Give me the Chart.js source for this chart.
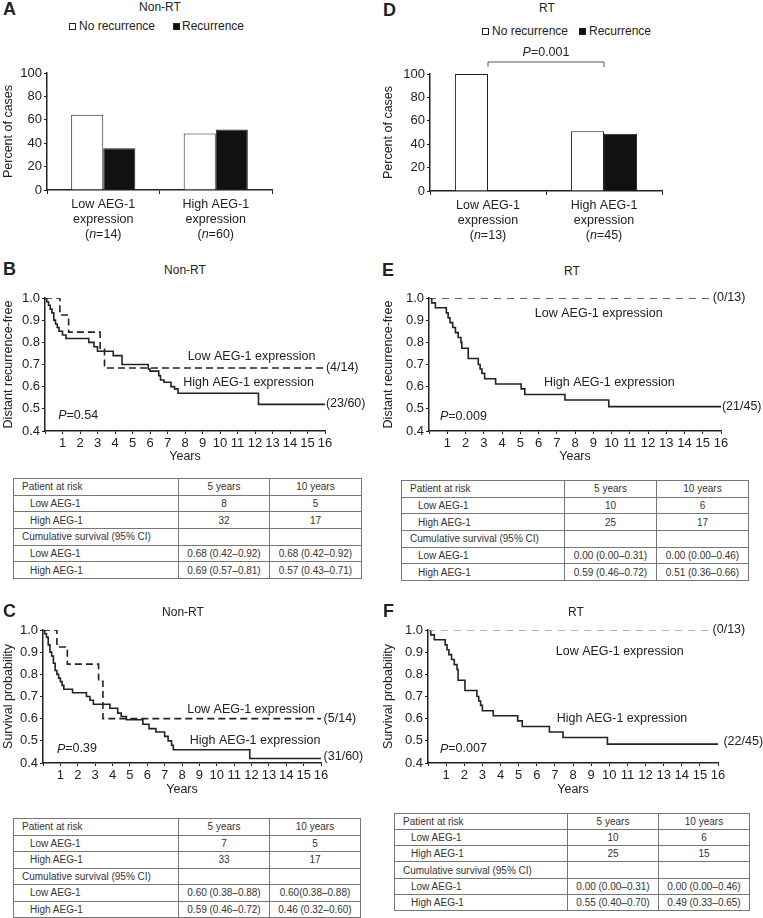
<!DOCTYPE html>
<html>
<head>
<meta charset="utf-8">
<script src="https://cdn.jsdelivr.net/npm/chart.js@4.4.1/dist/chart.umd.min.js"></script>
<style>
  body { margin: 0; background: #fff; font-family: "Liberation Sans", Arial, sans-serif; color: #222; }
  #page { position: relative; width: 763px; height: 918px; overflow: hidden; }
  canvas { position: absolute; }
  .txt { position: absolute; white-space: nowrap; font-size: 12px; }
  .letter { font-weight: bold; font-size: 18px; }
  .sq { position: absolute; width: 5px; height: 5px; border: 1px solid #222; }
  table.risk { position: absolute; border-collapse: collapse; table-layout: fixed; font-size: 10px; color: #333; }
  table.risk td { border: 1px solid #777; padding: 0; white-space: nowrap; overflow: hidden; }
  table.risk td.c { text-align: center; }
</style>
</head>
<body>
<div id="page">
  <canvas id="chartA" width="290" height="205" style="left:0px;top:40px"></canvas>
  <canvas id="chartD" width="300" height="205" style="left:380px;top:40px"></canvas>
  <canvas id="chartB" width="375" height="185" style="left:0px;top:283px"></canvas>
  <canvas id="chartE" width="383" height="185" style="left:380px;top:283px"></canvas>
  <canvas id="chartC" width="375" height="186" style="left:0px;top:615px"></canvas>
  <canvas id="chartF" width="383" height="186" style="left:380px;top:615px"></canvas>
</div>
<script>
// bar charts (A, D)
const barSeries = ['No recurrence', 'Recurrence'];
const aCategories = [['Low AEG-1', 'expression', '(*n*=14)'], ['High AEG-1', 'expression', '(*n*=60)']];
const aNoRecurrence = [64.3, 48.3];
const aRecurrence = [35.7, 51.7];
const dCategories = [['Low AEG-1', 'expression', '(*n*=13)'], ['High AEG-1', 'expression', '(*n*=45)']];
const dNoRecurrence = [100, 51.1];
const dRecurrence = [0, 48.9];

// survival curves: times (years) and survival
const bLowT = [0, 0.85, 1.35, 3.15, 3.4, 16];
const bLowS = [1.0, 0.923, 0.846, 0.769, 0.684, 0.684];
const bHighT = [0, 0.1, 0.2, 0.3, 0.4, 0.5, 0.6, 0.7, 0.8, 1.0, 1.2, 2.5, 2.8, 3.0, 3.9, 4.4, 5.9, 6.0, 6.5, 6.6, 6.8, 7.2, 7.4, 7.6, 12.2, 16];
const bHighS = [1.0, 0.983, 0.967, 0.95, 0.933, 0.9, 0.883, 0.867, 0.85, 0.833, 0.817, 0.80, 0.78, 0.76, 0.74, 0.70, 0.68, 0.67, 0.65, 0.63, 0.62, 0.60, 0.59, 0.57, 0.52, 0.52];

const eLowT = [0, 15.5];
const eLowS = [1.0, 1.0];
const eHighT = [0, 0.15, 0.35, 0.95, 1.05, 1.15, 1.3, 1.45, 1.6, 1.75, 1.8, 2.15, 2.7, 2.8, 2.9, 3.05, 3.65, 5.05, 5.25, 7.45, 9.85, 16];
const eHighS = [1.0, 0.978, 0.956, 0.933, 0.911, 0.889, 0.867, 0.844, 0.822, 0.80, 0.773, 0.727, 0.70, 0.68, 0.66, 0.636, 0.612, 0.59, 0.565, 0.54, 0.51, 0.51];

const cLowT = [0, 0.8, 1.4, 3.2, 3.45, 16];
const cLowS = [1.0, 0.923, 0.846, 0.769, 0.60, 0.60];
const cHighT = [0, 0.1, 0.2, 0.3, 0.4, 0.5, 0.6, 0.7, 0.8, 0.9, 1.0, 1.1, 1.2, 1.7, 2.5, 2.7, 2.9, 3.85, 4.3, 4.5, 4.8, 5.75, 6.1, 6.5, 7.0, 7.2, 7.4, 7.5, 11.9, 16];
const cHighS = [1.0, 0.983, 0.967, 0.933, 0.9, 0.883, 0.85, 0.817, 0.80, 0.783, 0.767, 0.75, 0.733, 0.717, 0.70, 0.683, 0.665, 0.647, 0.625, 0.61, 0.595, 0.575, 0.555, 0.54, 0.52, 0.50, 0.48, 0.46, 0.42, 0.42];

const fLowT = [0, 15.6];
const fLowS = [1.0, 1.0];
const fHighT = [0, 0.15, 0.35, 0.95, 1.05, 1.15, 1.3, 1.45, 1.6, 1.66, 2.04, 2.7, 2.8, 2.9, 3.0, 3.6, 4.95, 5.2, 6.7, 7.45, 9.9, 16];
const fHighS = [1.0, 0.978, 0.956, 0.933, 0.911, 0.889, 0.867, 0.844, 0.822, 0.773, 0.727, 0.70, 0.68, 0.66, 0.636, 0.613, 0.59, 0.565, 0.54, 0.515, 0.485, 0.485];

// tables
const riskHeader = ['Patient at risk', '5 years', '10 years'];
const bRiskLow = [8, 5], bRiskHigh = [32, 17];
const bCumLow = ['0.68 (0.42–0.92)', '0.68 (0.42–0.92)'], bCumHigh = ['0.69 (0.57–0.81)', '0.57 (0.43–0.71)'];
const eRiskLow = [10, 6], eRiskHigh = [25, 17];
const eCumLow = ['0.00 (0.00–0.31)', '0.00 (0.00–0.46)'], eCumHigh = ['0.59 (0.46–0.72)', '0.51 (0.36–0.66)'];
const cRiskLow = [7, 5], cRiskHigh = [33, 17];
const cCumLow = ['0.60 (0.38–0.88)', '0.60(0.38–0.88)'], cCumHigh = ['0.59 (0.46–0.72)', '0.46 (0.32–0.60)'];
const fRiskLow = [10, 6], fRiskHigh = [25, 15];
const fCumLow = ['0.00 (0.00–0.31)', '0.00 (0.00–0.46)'], fCumHigh = ['0.55 (0.40–0.70)', '0.49 (0.33–0.65)'];

const FONT = '"Liberation Sans", Arial, sans-serif';
const INK = '#222';
Chart.defaults.font.family = FONT;
Chart.defaults.font.size = 12;
Chart.defaults.color = INK;

// text with *italic* parts, drawn on a canvas
function drawRich(ctx, text, x, y, align, size) {
  const parts = text.split('*').map((t, i) => ({ t: t, it: i % 2 === 1 })).filter(p => p.t);
  let total = 0;
  parts.forEach(p => {
    ctx.font = (p.it ? 'italic ' : '') + size + 'px ' + FONT;
    p.w = ctx.measureText(p.t).width;
    total += p.w;
  });
  let cx = align === 'center' ? x - total / 2 : (align === 'right' ? x - total : x);
  ctx.textAlign = 'left';
  ctx.textBaseline = 'middle';
  ctx.fillStyle = INK;
  parts.forEach(p => {
    ctx.font = (p.it ? 'italic ' : '') + size + 'px ' + FONT;
    ctx.fillText(p.t, cx, y);
    cx += p.w;
  });
}

const extras = {
  id: 'extras',
  afterDraw(chart, args, opts) {
    const ctx = chart.ctx, xs = chart.scales.x, ys = chart.scales.y;
    ctx.save();
    (opts.notes || []).forEach(n => {
      drawRich(ctx, n.text, xs.getPixelForValue(n.x), ys.getPixelForValue(n.y), n.align || 'left', 12.5);
    });
    (opts.cats || []).forEach((lines, i) => {
      lines.forEach((line, j) => drawRich(ctx, line, xs.getPixelForValue(i), ys.bottom + 15 + j * 15, 'center', 12.5));
    });
    if (opts.bracket) {
      const x1 = xs.getPixelForValue(0), x2 = xs.getPixelForValue(1), y = ys.top - 12;
      ctx.strokeStyle = '#555';
      ctx.lineWidth = 1;
      ctx.beginPath();
      ctx.moveTo(x1, y + 5); ctx.lineTo(x1, y); ctx.lineTo(x2, y); ctx.lineTo(x2, y + 5);
      ctx.stroke();
      drawRich(ctx, opts.bracket, (x1 + x2) / 2, y - 9, 'center', 12.5);
    }
    ctx.restore();
  }
};

const axisGrid = { display: true, drawOnChartArea: false, drawTicks: true, tickLength: 3, color: INK };
const axisBorder = { display: true, color: INK, width: 1.5 };

function barChart(id, box, cats, noRec, rec, bracket) {
  new Chart(document.getElementById(id), {
    type: 'bar',
    data: {
      labels: cats.map(c => c.join(' ')),
      datasets: [
        { label: barSeries[0], data: noRec, backgroundColor: '#fff', borderColor: INK, borderWidth: 1 },
        { label: barSeries[1], data: rec, backgroundColor: '#111', borderColor: INK, borderWidth: 1 }
      ]
    },
    options: {
      responsive: false, animation: false,
      categoryPercentage: 0.57, barPercentage: 1.0,
      layout: { padding: { top: box.top, right: box.right, left: 0, bottom: 0 } },
      plugins: { legend: { display: false }, tooltip: { enabled: false }, extras: { cats: cats, bracket: bracket } },
      scales: {
        x: {
          afterFit: s => { s.height = box.xh; },
          ticks: { display: false },
          grid: Object.assign({}, axisGrid, { offset: true, tickLength: 4 }),
          border: axisBorder
        },
        y: {
          min: 0, max: 100,
          afterFit: s => { s.width = box.yw; },
          ticks: { stepSize: 20, padding: 2, font: { size: 13 } },
          grid: axisGrid, border: axisBorder,
          title: { display: true, text: 'Percent of cases', font: { size: 12.5 }, padding: { top: 1, bottom: 0 } }
        }
      }
    },
    plugins: [extras]
  });
}

function kmChart(id, box, low, high, lowColor, lowDash, notes, yTitle) {
  const pts = (t, s) => t.map((v, i) => ({ x: v, y: s[i] }));
  new Chart(document.getElementById(id), {
    type: 'line',
    data: {
      datasets: [
        { data: pts(low[0], low[1]), stepped: true, borderColor: lowColor, borderWidth: 1.6, borderDash: lowDash, pointRadius: 0, fill: false },
        { data: pts(high[0], high[1]), stepped: true, borderColor: INK, borderWidth: 1.6, pointRadius: 0, fill: false }
      ]
    },
    options: {
      responsive: false, animation: false,
      layout: { padding: { top: box.top, right: box.right, left: 0, bottom: 0 } },
      plugins: { legend: { display: false }, tooltip: { enabled: false }, extras: { notes: notes } },
      scales: {
        x: {
          type: 'linear', min: 0, max: 16,
          afterFit: s => { s.height = box.xh; },
          ticks: { stepSize: 1, autoSkip: false, maxRotation: 0, padding: 2, font: { size: 13 }, callback: v => v === 0 ? '' : v },
          grid: axisGrid, border: axisBorder,
          title: { display: true, text: 'Years', font: { size: 12.5 }, padding: { top: 0, bottom: 4 } }
        },
        y: {
          min: 0.4, max: 1.0,
          afterFit: s => { s.width = box.yw; },
          ticks: { stepSize: 0.1, padding: 2, font: { size: 13 }, callback: v => v.toFixed(1) },
          grid: axisGrid, border: axisBorder,
          title: { display: true, text: yTitle, font: { size: 12.5 }, padding: { top: 1, bottom: 0 } }
        }
      }
    },
    plugins: [extras]
  });
}

barChart('chartA', { top: 33, right: 18, xh: 55, yw: 47 }, aCategories, aNoRecurrence, aRecurrence, null);
barChart('chartD', { top: 34, right: 18, xh: 54, yw: 50 }, dCategories, dNoRecurrence, dRecurrence, '*P*=0.001');

kmChart('chartB', { top: 15, right: 50, xh: 37, yw: 45 }, [bLowT, bLowS], [bHighT, bHighS], INK, [7, 4], [
  { x: 8.15, y: 0.735, text: 'Low AEG-1 expression' },
  { x: 7.9, y: 0.617, text: 'High AEG-1 expression' },
  { x: 16.05, y: 0.684, text: '(4/14)' },
  { x: 16.05, y: 0.525, text: '(23/60)' },
  { x: 0.75, y: 0.47, text: '*P*=0.54' }
], 'Distant recurrence-free');

kmChart('chartE', { top: 15, right: 42, xh: 37, yw: 49 }, [eLowT, eLowS], [eHighT, eHighS], '#333', [7, 6], [
  { x: 5.8, y: 0.93, text: 'Low AEG-1 expression' },
  { x: 6.3, y: 0.62, text: 'High AEG-1 expression' },
  { x: 15.55, y: 1.0, text: '(0/13)' },
  { x: 16.05, y: 0.51, text: '(21/45)' },
  { x: 0.6, y: 0.467, text: '*P*=0.009' }
], 'Distant recurrence-free');

kmChart('chartC', { top: 15, right: 54, xh: 38, yw: 43 }, [cLowT, cLowS], [cHighT, cHighS], INK, [7, 4], [
  { x: 8.3, y: 0.64, text: 'Low AEG-1 expression' },
  { x: 8.45, y: 0.5, text: 'High AEG-1 expression' },
  { x: 16.15, y: 0.6, text: '(5/14)' },
  { x: 16.15, y: 0.43, text: '(31/60)' },
  { x: 0.8, y: 0.463, text: '*P*=0.39' }
], 'Survival probability');

kmChart('chartF', { top: 15, right: 45, xh: 38, yw: 48 }, [fLowT, fLowS], [fHighT, fHighS], '#999', [7, 6], [
  { x: 7.05, y: 0.905, text: 'Low AEG-1 expression' },
  { x: 7.1, y: 0.6, text: 'High AEG-1 expression' },
  { x: 15.7, y: 1.0, text: '(0/13)' },
  { x: 16.3, y: 0.495, text: '(22/45)' },
  { x: 0.66, y: 0.463, text: '*P*=0.007' }
], 'Survival probability');

// page text: panel letters, titles, legends
const page = document.getElementById('page');
function txt(text, x, y, cls, center) {
  const d = document.createElement('div');
  d.className = 'txt ' + (cls || '');
  d.textContent = text;
  d.style.left = x + 'px';
  d.style.top = (y - 9) + 'px';
  d.style.lineHeight = '18px';
  if (center) d.style.transform = 'translateX(-50%)';
  page.appendChild(d);
}
function square(x, y, fill) {
  const s = document.createElement('div');
  s.className = 'sq';
  s.style.left = x + 'px';
  s.style.top = (y - 3) + 'px';
  s.style.background = fill;
  page.appendChild(s);
}

txt('A', 3, 9, 'letter'); txt('Non-RT', 160, 7, '', true);
square(69, 26, '#fff'); txt(barSeries[0], 79, 26);
square(173, 26, '#111'); txt(barSeries[1], 182, 26);
txt('D', 383, 10, 'letter'); txt('RT', 547, 8, '', true);
square(482, 31, '#fff'); txt(barSeries[0], 492, 31);
square(579, 31, '#111'); txt(barSeries[1], 589, 31);
txt('B', 3, 269, 'letter'); txt('Non-RT', 185, 270, '', true);
txt('E', 382, 270, 'letter'); txt('RT', 572, 271, '', true);
txt('C', 3, 611, 'letter'); txt('Non-RT', 183, 612, '', true);
txt('F', 383, 611, 'letter'); txt('RT', 576, 612, '', true);

function riskTable(left, top, widths, height, riskLow, riskHigh, cumLow, cumHigh) {
  const t = document.createElement('table');
  t.className = 'risk';
  t.style.left = left + 'px';
  t.style.top = top + 'px';
  t.style.width = widths.reduce((a, b) => a + b, 0) + 'px';
  const cg = document.createElement('colgroup');
  widths.forEach(w => { const c = document.createElement('col'); c.style.width = w + 'px'; cg.appendChild(c); });
  t.appendChild(cg);
  const rows = [
    [riskHeader[0], riskHeader[1], riskHeader[2], 8],
    ['Low AEG-1', riskLow[0], riskLow[1], 16],
    ['High AEG-1', riskHigh[0], riskHigh[1], 16],
    ['Cumulative survival (95% CI)', '', '', 8],
    ['Low AEG-1', cumLow[0], cumLow[1], 16],
    ['High AEG-1', cumHigh[0], cumHigh[1], 16]
  ];
  rows.forEach(r => {
    const tr = document.createElement('tr');
    tr.style.height = (height / rows.length) + 'px';
    for (let i = 0; i < 3; i++) {
      const td = document.createElement('td');
      td.textContent = r[i];
      if (i === 0) td.style.paddingLeft = r[3] + 'px'; else td.className = 'c';
      tr.appendChild(td);
    }
    t.appendChild(tr);
  });
  page.appendChild(t);
}

riskTable(13, 478, [165, 91, 92], 100, bRiskLow, bRiskHigh, bCumLow, bCumHigh);
riskTable(401, 480, [163, 92, 92], 100, eRiskLow, eRiskHigh, eCumLow, eCumHigh);
riskTable(13, 818, [165, 91, 91], 99, cRiskLow, cRiskHigh, cCumLow, cCumHigh);
riskTable(394, 813, [173, 91, 91], 97, fRiskLow, fRiskHigh, fCumLow, fCumHigh);
</script>
</body>
</html>
